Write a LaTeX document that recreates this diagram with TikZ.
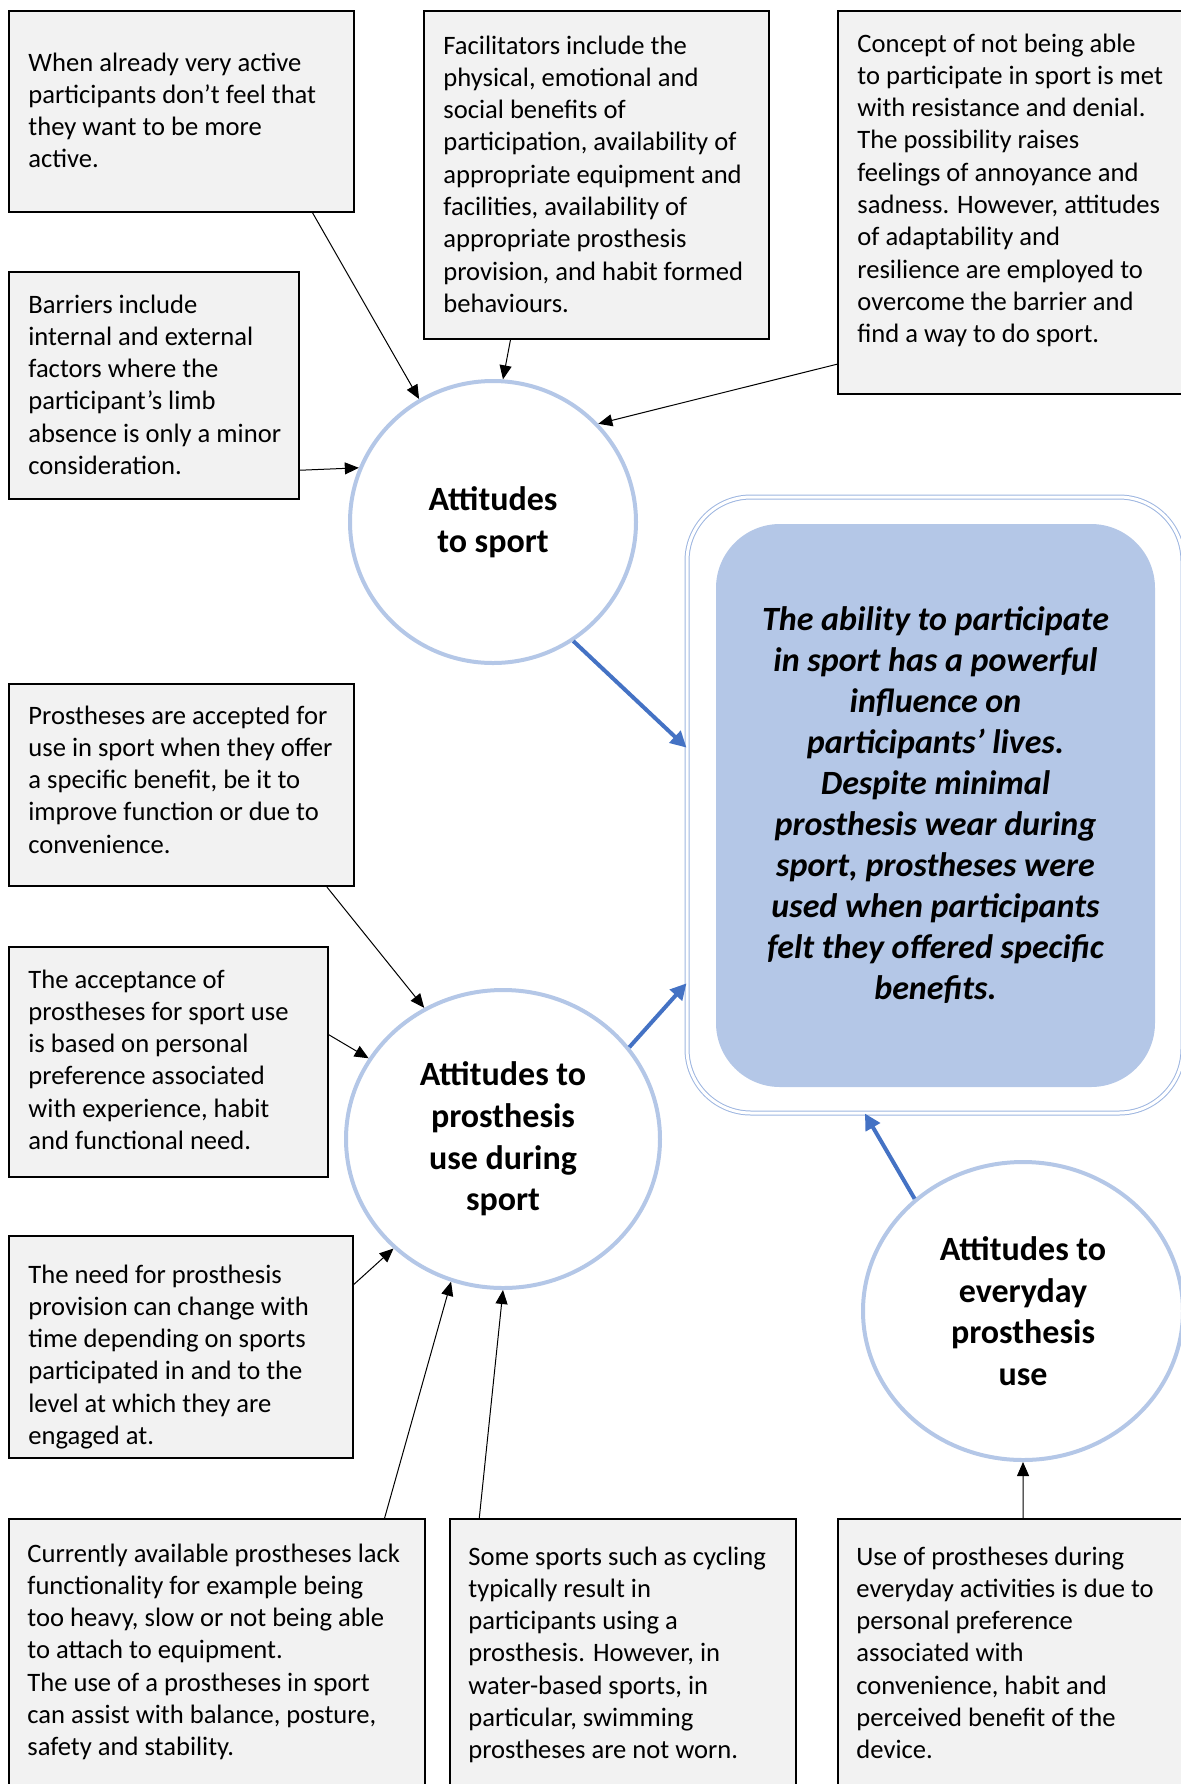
\documentclass[tikz,border=0pt]{standalone}
\usepackage{fontspec}
\setmainfont{Carlito}
\usetikzlibrary{arrows.meta,calc,shapes.geometric}
\definecolor{boxfill}{HTML}{F2F2F2}
\definecolor{ringblue}{HTML}{B4C7E7}
\definecolor{outerblue}{HTML}{9DB5E0}
\definecolor{arrowblue}{HTML}{4472C4}
\tikzset{
  txtbox/.style={draw=black, line width=1pt, fill=boxfill, rectangle, inner sep=0pt},
  txt/.style={anchor=base west, align=left, inner sep=0pt, font=\fontsize{13.3pt}{16.15pt}\selectfont},
  ring/.style={ellipse, draw=ringblue, line width=2pt, fill=white, inner sep=0pt, align=center,
     font=\fontsize{17pt}{20.8pt}\selectfont\bfseries},
  blk/.style={-{Triangle[length=7pt,width=6pt]}, line width=0.5pt, black},
  blu/.style={-{Triangle[length=8pt,width=8pt]}, line width=2pt, arrowblue},
}
\newcommand\mkbox[5]{\node[txtbox, minimum width={(#4-#2)*0.5pt}, minimum height={(#5-#3)*0.5pt}] (#1) at ({(#2+#4)/2},{(#3+#5)/2}) {};}
\begin{document}
\begin{tikzpicture}[x=0.5pt,y=-0.5pt]
\useasboundingbox (0,0) rectangle (1181,1784);
\clip (0,0) rectangle (1181,1784);

% boxes
\mkbox{b1}{9}{11}{354}{212}
\mkbox{b2}{9}{272}{299}{499}
\mkbox{b3}{424}{11}{769}{339}
\mkbox{b4}{838}{11}{1192}{394}
\mkbox{b5}{9}{684}{354}{886}
\mkbox{b6}{9}{947}{328}{1177}
\mkbox{b7}{9}{1236}{353}{1458}
\mkbox{b8}{9}{1519}{425}{1800}
\mkbox{b9}{450}{1519}{796}{1800}
\mkbox{b10}{838}{1519}{1192}{1800}

% texts (anchored at the baseline of their last line)
\node[txt] (t1) at (28,167.9) {When already very active\\participants don’t feel that\\they want to be more\\active.};
\node[txt] (t2) at (28,474.5) {Barriers include\\internal and external\\factors where the\\participant’s limb\\absence is only a minor\\consideration.};
\node[txt] (t3) at (443,312.4) {Facilitators include the\\physical, emotional and\\social benefits of\\participation, availability of\\appropriate equipment and\\facilities, availability of\\appropriate prosthesis\\provision, and habit formed\\behaviours.};
\node[txt] (t4) at (857,342.7) {Concept of not being able\\to participate in sport is met\\with resistance and denial.\\The possibility raises\\feelings of annoyance and\\sadness. However, attitudes\\of adaptability and\\resilience are employed to\\overcome the barrier and\\find a way to do sport.};
\node[txt] (t5) at (28,853.2) {Prostheses are accepted for\\use in sport when they offer\\a specific benefit, be it to\\improve function or due to\\convenience.};
\node[txt] (t6) at (28,1149.5) {The acceptance of\\prostheses for sport use\\is based on personal\\preference associated\\with experience, habit\\and functional need.};
\node[txt] (t7) at (28,1444.5) {The need for prosthesis\\provision can change with\\time depending on sports\\participated in and to the\\level at which they are\\engaged at.};
\node[txt] (t8) at (27,1755.8) {Currently available prostheses lack\\functionality for example being\\too heavy, slow or not being able\\to attach to equipment.\\The use of a prostheses in sport\\can assist with balance, posture,\\safety and stability.};
\node[txt] (t9) at (468,1758.8) {Some sports such as cycling\\typically result in\\participants using a\\prosthesis. However, in\\water-based sports, in\\particular, swimming\\prostheses are not worn.};
\node[txt] (t10) at (856,1758.8) {Use of prostheses during\\everyday activities is due to\\personal preference\\associated with\\convenience, habit and\\perceived benefit of the\\device.};

% central box
\node[rectangle, rounded corners=32pt, draw=outerblue, line width=0.5pt, double=white, double distance=1.5pt,
      minimum width=248pt, minimum height=308pt] (outer) at (935,805) {};
\node[rectangle, rounded corners=32pt, fill=ringblue, minimum width=219.5pt, minimum height=281.5pt,
      align=center, font=\fontsize{17pt}{20.5pt}\selectfont\bfseries\itshape] (inner) at (935.5,805.5)
  {The ability to participate\\in sport has a powerful\\influence on\\participants’ lives.\\Despite minimal\\prosthesis wear during\\sport, prostheses were\\used when participants\\felt they offered specific\\benefits.};

% circles
\node[ring, minimum width=143pt, minimum height=141pt] (c1) at (493,522) {Attitudes\\to sport};
\node[ring, minimum width=157pt, minimum height=149pt] (c2) at (503,1139) {Attitudes to\\prosthesis\\use during\\sport};
\node[ring, minimum width=160pt, minimum height=149pt] (c3) at (1023,1311) {Attitudes to\\everyday\\prosthesis\\use};

% black arrows
\draw[blk] ($(b1.south west)!0.878!(b1.south east)$) -- (c1.121.8);
\draw[blk] ($(b2.north east)!0.87!(b2.south east)$) -- (c1.158.6);
\draw[blk] ($(b3.south west)!0.252!(b3.south east)$) -- (c1.86.8);
\draw[blk] ($(b4.north west)!0.92!(b4.south west)$) -- (c1.43.6);
\draw[blk] ($(b5.south west)!0.919!(b5.south east)$) -- (c2.121.8);
\draw[blk] ($(b6.north east)!0.383!(b6.south east)$) -- (c2.149);
\draw[blk] ($(b7.north east)!0.22!(b7.south east)$) -- (c2.-135.5);
\draw[blk] ($(b8.north west)!0.901!(b8.north east)$) -- (c2.-110);
\draw[blk] ($(b9.north west)!0.087!(b9.north east)$) -- (c2.-90.4);
\draw[blk] ($(b10.north west)!0.523!(b10.north east)$) -- (c3.-90);

% blue arrows
\draw[blu] (c1.-56.9) -- ($(outer.north west)!0.407!(outer.south west)$);
\draw[blu] (c2.36) -- ($(outer.north west)!0.789!(outer.south west)$);
\draw[blu] (c3.134.7) -- ($(outer.south west)!0.359!(outer.south east)$);
\end{tikzpicture}
\end{document}
